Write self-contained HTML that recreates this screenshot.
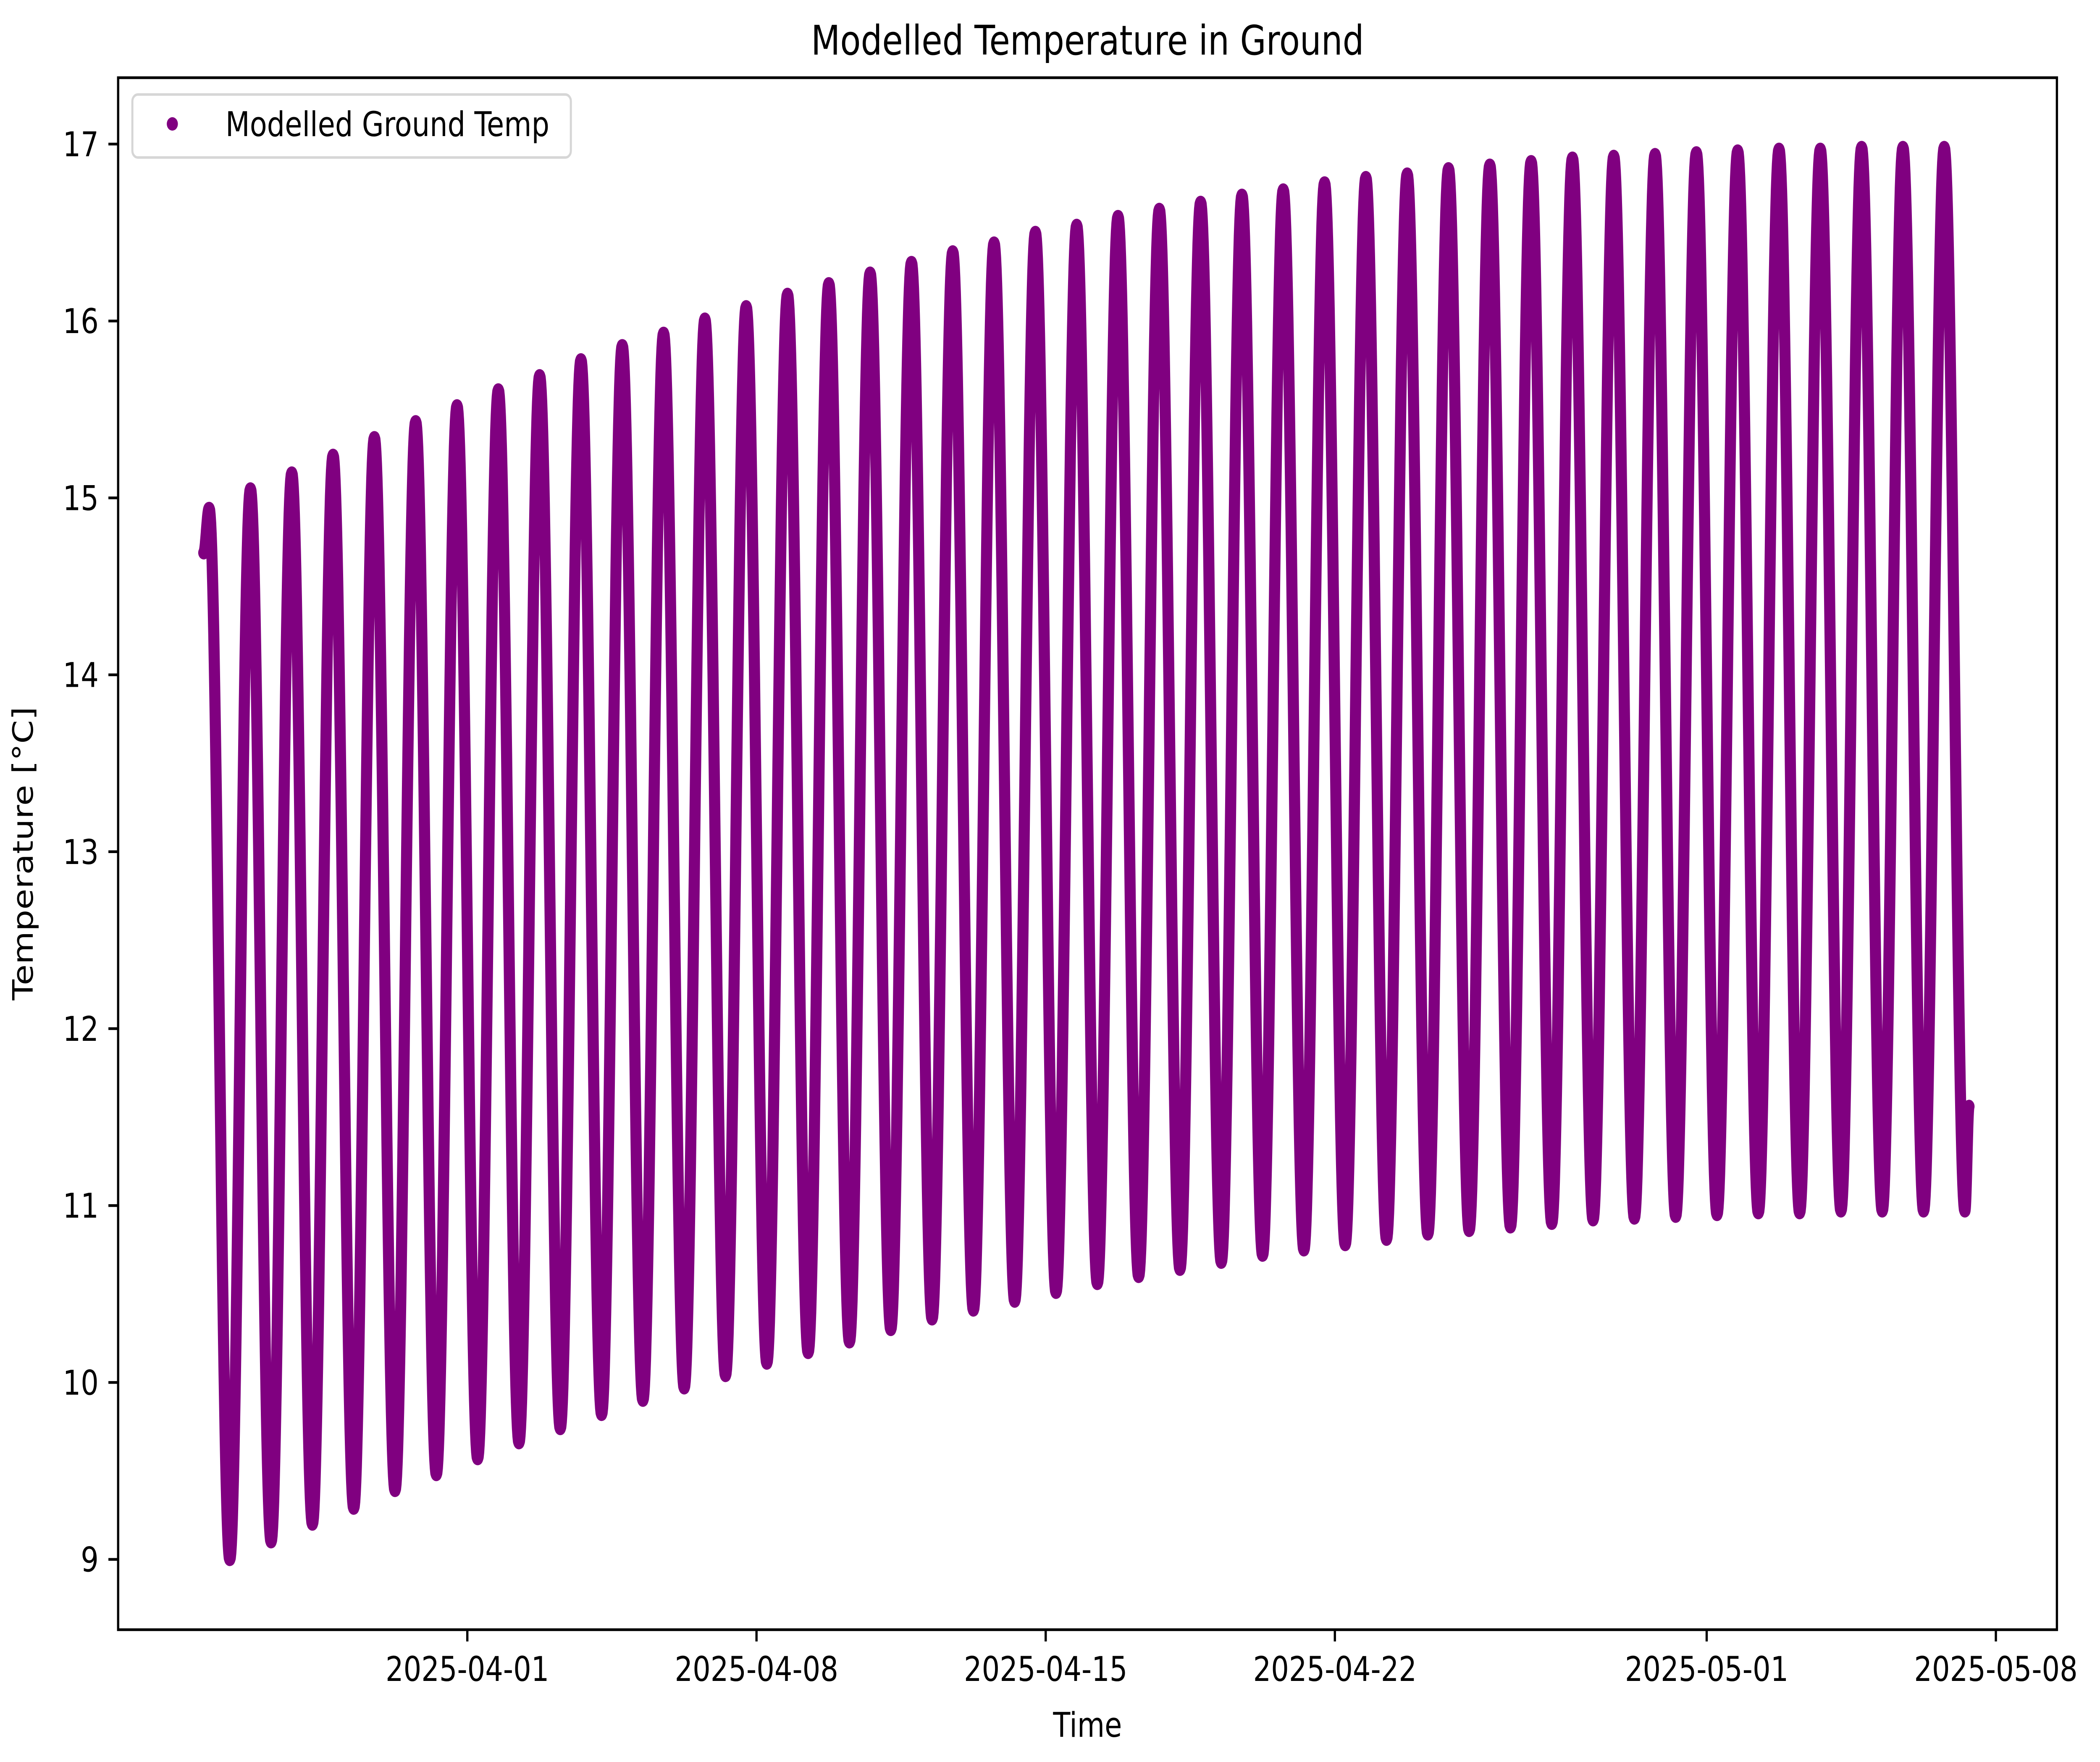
<!DOCTYPE html>
<html><head><meta charset="utf-8"><meta name="viewport" content="width=6044, initial-scale=1"><style>
html,body{margin:0;padding:0;background:#fff;width:100%;height:100%;overflow:hidden}
svg{display:block;position:absolute;left:0;top:0;width:100vw;height:100vh}
text{font-family:"DejaVu Sans","Liberation Sans",sans-serif;fill:#000}
</style></head><body>
<svg id="chart" viewBox="0 0 6044 4195" preserveAspectRatio="none" xmlns="http://www.w3.org/2000/svg">
<rect width="6044" height="4195" fill="#fff"/>
<text x="3130" y="130" font-size="97" text-anchor="middle">Modelled Temperature in Ground</text>
<g id="plot"></g>
<g id="axes"></g>
<text x="3130" y="4135" font-size="81" text-anchor="middle">Time</text>
<text transform="translate(94,2032) rotate(-90)" font-size="81" text-anchor="middle">Temperature [°C]</text>
<g>
<rect x="381" y="225" width="1262" height="150" rx="16" fill="#fff" fill-opacity="0.8" stroke="#d6d6d6" stroke-width="6"/>
<circle cx="496" cy="295" r="16" fill="#800080"/>
<text x="649" y="324" font-size="81">Modelled Ground Temp</text>
</g>
</svg>
<script>
// Daily maxima (Mar 25 .. May 6, at ~18:00) and minima (Mar 26 .. May 7, at ~06:00)
const peakVals = [14.94,15.05,15.14,15.24,15.34,15.43,15.52,15.61,15.69,15.78,15.86,15.93,16.01,16.08,16.15,16.21,16.27,16.33,16.39,16.44,16.50,16.54,16.59,16.63,16.67,16.71,16.74,16.78,16.81,16.83,16.86,16.88,16.90,16.92,16.93,16.94,16.95,16.96,16.97,16.97,16.98,16.98,16.98];
const troughVals = [9.00,9.10,9.20,9.29,9.39,9.48,9.57,9.66,9.74,9.82,9.90,9.97,10.04,10.11,10.17,10.23,10.30,10.36,10.41,10.46,10.51,10.56,10.60,10.64,10.68,10.72,10.75,10.78,10.81,10.84,10.86,10.88,10.90,10.92,10.93,10.94,10.95,10.96,10.96,10.97,10.97,10.97,10.97];
const startPoint = [-6.38, 14.69];  // days from 2025-04-01, value
const endPoint = [36.35, 11.56];
const yTicks = [9,10,11,12,13,14,15,16,17];
const xTickDays = [0,7,14,21,30,37];
const xTickLabels = ["2025-04-01","2025-04-08","2025-04-15","2025-04-22","2025-05-01","2025-05-08"];

const NS = "http://www.w3.org/2000/svg";
const L=340,R=5920,T=185,B=3880;
function xS(d){return 1345 + d*118.9;}
function yS(v){return 343 + (17-v)*421.2;}

const ext=[startPoint];
for(let i=0;i<peakVals.length;i++){
  ext.push([-7+i+0.75, peakVals[i]]);
  if(i<troughVals.length) ext.push([-6+i+0.25, troughVals[i]]);
}
ext.push(endPoint);
let d="";
for(let k=0;k<ext.length-1;k++){
  const a=ext[k], b=ext[k+1];
  const n=40;
  for(let j=(k===0?0:1);j<=n;j++){
    const t=j/n;
    const f=(1-Math.cos(Math.PI*t))/2;
    const x=a[0]+(b[0]-a[0])*t, v=a[1]+(b[1]-a[1])*f;
    d+=(d?"L":"M")+xS(x).toFixed(1)+","+yS(v).toFixed(1);
  }
}
const plot=document.getElementById("plot");
const p=document.createElementNS(NS,"path");


p.setAttribute("d",d);p.setAttribute("fill","none");p.setAttribute("stroke","#800080");
p.setAttribute("stroke-width","32");p.setAttribute("stroke-linejoin","round");p.setAttribute("stroke-linecap","round");
plot.appendChild(p);

const axes=document.getElementById("axes");
const frame=document.createElementNS(NS,"rect");


frame.setAttribute("x",L);frame.setAttribute("y",T);frame.setAttribute("width",R-L);frame.setAttribute("height",B-T);
frame.setAttribute("fill","none");frame.setAttribute("stroke","#000");frame.setAttribute("stroke-width","6.5");
axes.appendChild(frame);
yTicks.forEach(v=>{
  const y=yS(v);
  const ln=document.createElementNS(NS,"line");
  
  
  ln.setAttribute("x1",L-28);ln.setAttribute("x2",L);ln.setAttribute("y1",y);ln.setAttribute("y2",y);
  ln.setAttribute("stroke","#000");ln.setAttribute("stroke-width","6.5");axes.appendChild(ln);
  const tx=document.createElementNS(NS,"text");
  
  
  tx.setAttribute("x",L-56);tx.setAttribute("y",y+29);tx.setAttribute("font-size","81");tx.setAttribute("text-anchor","end");
  tx.textContent=String(v);axes.appendChild(tx);
});
xTickDays.forEach((dd,i)=>{
  const x=xS(dd);
  const ln=document.createElementNS(NS,"line");
  
  
  ln.setAttribute("x1",x);ln.setAttribute("x2",x);ln.setAttribute("y1",B);ln.setAttribute("y2",B+28);
  ln.setAttribute("stroke","#000");ln.setAttribute("stroke-width","6.5");axes.appendChild(ln);
  const tx=document.createElementNS(NS,"text");
  
  
  tx.setAttribute("x",x);tx.setAttribute("y",4002);tx.setAttribute("font-size","81");tx.setAttribute("text-anchor","middle");
  tx.textContent=xTickLabels[i];axes.appendChild(tx);
});
</script>
</body></html>
